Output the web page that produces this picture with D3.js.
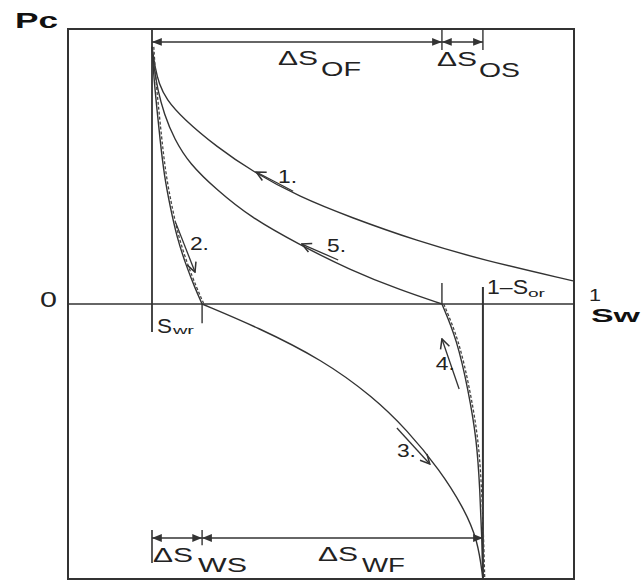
<!DOCTYPE html>
<html><head><meta charset="utf-8">
<script src="https://cdn.jsdelivr.net/npm/d3@7"></script>
<style>body{margin:0;background:#fff}svg{display:block}text{font-family:"Liberation Sans",Arial,sans-serif;fill:#222}</style>
</head><body>
<script>
// Saturation values (Sw) and capillary pressure (Pc, normalised)
const swr = 0.166, swWS = 0.265, swOF = 0.739, swOr = 0.820;
const curve1 = [[0.166,0.935],[0.172,0.860],[0.180,0.800],[0.194,0.745],[0.227,0.675],[0.294,0.571],[0.366,0.480],[0.458,0.389],[0.557,0.316],[0.690,0.229],[0.820,0.160],[0.998,0.084]];
const curve5 = [[0.166,0.935],[0.170,0.860],[0.177,0.780],[0.190,0.690],[0.210,0.600],[0.240,0.510],[0.294,0.415],[0.360,0.316],[0.458,0.215],[0.557,0.124],[0.656,0.051],[0.739,0]];
const curve2 = [[0.166,0.935],[0.170,0.815],[0.176,0.705],[0.182,0.596],[0.190,0.469],[0.202,0.353],[0.215,0.244],[0.233,0.142],[0.251,0.058],[0.265,0]];
const curve3 = [[0.265,0],[0.374,-0.084],[0.504,-0.204],[0.603,-0.338],[0.670,-0.458],[0.735,-0.604],[0.781,-0.738],[0.810,-0.858],[0.820,-1.0]];
const curve4 = [[0.739,0],[0.769,-0.131],[0.791,-0.313],[0.808,-0.495],[0.814,-0.676],[0.818,-0.858],[0.820,-1.0]];
const stepLabels = ["1.","2.","3.","4.","5."];

const W = 641, H = 581;
const svg = d3.select("body").append("svg").attr("width", W).attr("height", H);
const x = d3.scaleLinear([0,1],[68,574]);
const y = d3.scaleLinear([-1,1],[579,29]);
const ink = "#333";

const defs = svg.append("defs");
defs.append("marker").attr("id","ah").attr("viewBox","0 0 10 10").attr("refX",10).attr("refY",5)
  .attr("markerWidth",7).attr("markerHeight",7).attr("orient","auto-start-reverse")
  .append("path").attr("d","M0,1 L10,5 L0,9 Z").attr("fill",ink);
defs.append("marker").attr("id","oa").attr("viewBox","0 0 10 10").attr("refX",9).attr("refY",5)
  .attr("markerWidth",9).attr("markerHeight",9).attr("orient","auto")
  .append("path").attr("d","M1,1 L9,5 L1,9").attr("fill","none").attr("stroke",ink).attr("stroke-width",1.3);

// frame
svg.append("rect").attr("x",x(0)).attr("y",y(1)).attr("width",x(1)-x(0)).attr("height",y(-1)-y(1))
  .attr("fill","none").attr("stroke",ink).attr("stroke-width",2);
// zero line
svg.append("line").attr("x1",x(0)).attr("x2",x(1)).attr("y1",y(0)).attr("y2",y(0)).attr("stroke",ink).attr("stroke-width",1.6);

function vline(sw, p1, p2, w){
  svg.append("line").attr("x1",x(sw)).attr("x2",x(sw)).attr("y1",y(p1)).attr("y2",y(p2)).attr("stroke",ink).attr("stroke-width",w||1.6);
}
vline(swr, 1, -0.102, 1.8);
vline(swWS, 0, -0.07, 1.4);
vline(swOr, 0.062, -1, 2);
vline(swOF, 0.076, 0, 1.4);
vline(swOF, 1, 0.924, 1.4);
vline(swOr, 1, 0.924, 1.4);
vline(swr, -0.822, -0.942, 1.6);
vline(swWS, -0.822, -0.877, 1.4);

function dim(a, b, p){
  svg.append("line").attr("x1",x(a)).attr("x2",x(b)).attr("y1",y(p)).attr("y2",y(p))
    .attr("stroke",ink).attr("stroke-width",1.4)
    .attr("marker-start","url(#ah)").attr("marker-end","url(#ah)");
}
dim(swr, swOF, 0.953);
dim(swOF, swOr, 0.953);
dim(swr, swWS, -0.851);
dim(swWS, swOr, -0.851);

const line = d3.line().x(d=>x(d[0])).y(d=>y(d[1])).curve(d3.curveBasis);
function curve(data, dashed){
  svg.append("path").attr("d",line(data)).attr("fill","none").attr("stroke",ink).attr("stroke-width",1.4);
  if (dashed){
    svg.append("path").attr("d",line(data)).attr("transform","translate(1.8,0)").attr("fill","none")
      .attr("stroke","#444").attr("stroke-width",1.3).attr("stroke-dasharray","3,2");
  }
}
curve(curve1,false);
curve(curve5,false);
curve(curve2,true);
curve(curve3,false);
curve(curve4,true);

// direction arrows
function arrow(a, b){
  svg.append("line").attr("x1",x(a[0])).attr("y1",y(a[1])).attr("x2",x(b[0])).attr("y2",y(b[1]))
    .attr("stroke",ink).attr("stroke-width",1.3).attr("marker-end","url(#oa)");
}
arrow([0.445,0.410],[0.372,0.480]);
arrow([0.534,0.160],[0.462,0.218]);
arrow([0.213,0.295],[0.251,0.116]);
arrow([0.773,-0.309],[0.739,-0.127]);
arrow([0.650,-0.451],[0.715,-0.582]);

function txt(s, px, py, size, opts){
  opts = opts||{};
  const t = svg.append("text").attr("x",px).attr("y",py).attr("font-size",size).text(s);
  if (opts.bold) t.attr("font-weight","bold");
  if (opts.len) t.attr("textLength",opts.len).attr("lengthAdjust","spacingAndGlyphs");
  if (opts.fill) t.style("fill",opts.fill);
  return t;
}
const stepPos = [[0.415,0.44],[0.241,0.196],[0.650,-0.556],[0.727,-0.24],[0.512,0.189]];
stepLabels.forEach((s,i)=>txt(s, x(stepPos[i][0]), y(stepPos[i][1]), 18, {len:19}));

txt("Pc", 15, 28, 22, {bold:true, len:43, fill:"#111"});
txt("0", 40, 307, 22, {len:17});
txt("1", 589, 301, 17, {len:12});
txt("Sw", 591, 322, 18, {bold:true, len:49, fill:"#111"});
txt("1–S", 487, 294, 20, {len:41});
txt("or", 528, 297, 10, {len:17});
txt("S", 157, 333, 21, {len:15});
txt("wr", 173, 334, 10, {len:21});

txt("ΔS", 278, 65, 20, {len:40});
txt("OF", 321, 76, 20, {len:40});
txt("ΔS", 437, 66, 20, {len:40});
txt("OS", 479, 77, 20, {len:41});
txt("ΔS", 153, 562, 20, {len:40});
txt("WS", 198, 572, 20, {len:49});
txt("ΔS", 318, 561, 20, {len:40});
txt("WF", 362, 572, 20, {len:43});
</script>
</body></html>
